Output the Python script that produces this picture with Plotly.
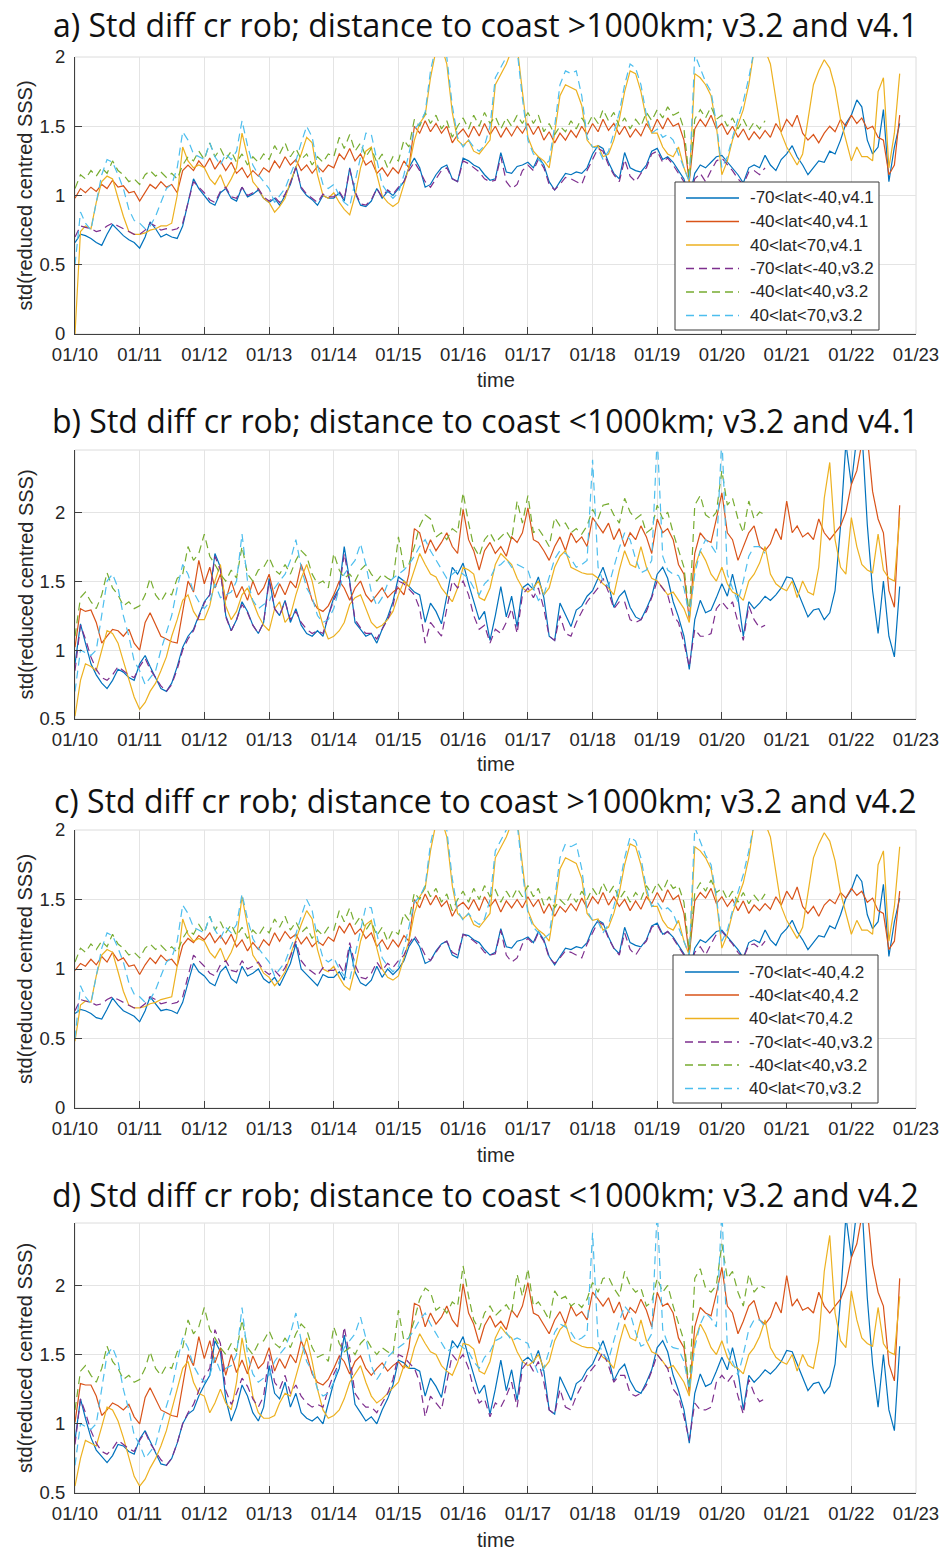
import pandas as pd
import plotly.graph_objects as go

# ---------------------------------------------------------------------------
# Monthly std of reduced-centred SSS differences, Jan 2010 - Oct 2022
# S = -70<lat<-40, T = -40<lat<40, N = 40<lat<70
# FAR = distance to coast >1000km, NEAR = distance to coast <1000km
# ---------------------------------------------------------------------------
START = "2010-01-01"

# ---- distance to coast > 1000 km -------------------------------------------
FAR_S_V41 = [
    0.66, 0.72, 0.71, 0.69, 0.66, 0.64, 0.72, 0.79, 0.75, 0.71, 0.68, 0.66,
    0.62, 0.70, 0.81, 0.76, 0.70, 0.72, 0.70, 0.69, 0.78, 0.95, 1.12, 1.05,
    1.00, 0.95, 0.93, 1.02, 1.05, 0.98, 0.96, 1.06, 0.99, 1.01, 1.04, 0.98,
    0.95, 0.98, 0.93, 1.00, 1.08, 1.21, 1.05, 1.00, 0.97, 0.93, 1.00, 0.98,
    0.98, 1.02, 0.96, 1.20, 1.02, 0.93, 0.92, 0.96, 1.05, 0.98, 1.03, 1.00,
    1.05, 1.10, 1.20, 1.27, 1.20, 1.06, 1.08, 1.15, 1.20, 1.22, 1.12, 1.10,
    1.27, 1.25, 1.22, 1.20, 1.15, 1.11, 1.12, 1.31, 1.17, 1.16, 1.21, 1.22,
    1.24, 1.20, 1.28, 1.22, 1.10, 1.04, 1.10, 1.16, 1.15, 1.17, 1.16, 1.20,
    1.30, 1.36, 1.34, 1.24, 1.16, 1.12, 1.31, 1.20, 1.18, 1.17, 1.22, 1.32,
    1.34, 1.26, 1.28, 1.24, 1.18, 1.12, 0.98, 1.16, 1.22, 1.20, 1.24, 1.28,
    1.29, 1.24, 1.20, 1.15, 1.09, 1.20, 1.22, 1.20, 1.29, 1.22, 1.18, 1.26,
    1.30, 1.36, 1.28, 1.22, 1.15, 1.20, 1.25, 1.24, 1.32, 1.30, 1.40, 1.52,
    1.58, 1.69, 1.64, 1.40, 1.30, 1.35, 1.62, 1.10, 1.35, 1.52,
]
FAR_T_V41 = [
    0.98, 1.05, 1.02, 1.06, 1.03, 1.08, 1.05, 1.11, 1.06, 1.07, 1.02, 1.03,
    0.96, 1.02, 1.08, 1.05, 1.10, 1.06, 1.08, 1.02, 1.18, 1.22, 1.18, 1.25,
    1.20, 1.27, 1.19, 1.25, 1.18, 1.24, 1.16, 1.20, 1.13, 1.18, 1.14, 1.20,
    1.17, 1.25, 1.20, 1.28, 1.22, 1.26, 1.18, 1.22, 1.16, 1.21, 1.17, 1.22,
    1.20, 1.30, 1.26, 1.34, 1.25, 1.30, 1.22, 1.25, 1.16, 1.20, 1.14, 1.20,
    1.16, 1.25, 1.20, 1.50, 1.45, 1.54, 1.46, 1.52, 1.45, 1.50, 1.38, 1.44,
    1.48, 1.42, 1.50, 1.43, 1.52, 1.44, 1.50, 1.42, 1.49, 1.43, 1.50, 1.45,
    1.52, 1.44, 1.50, 1.40, 1.46, 1.38, 1.45, 1.40, 1.47, 1.42, 1.50, 1.44,
    1.52, 1.46, 1.55, 1.47, 1.52, 1.44, 1.50, 1.42, 1.48, 1.43, 1.52, 1.46,
    1.55, 1.48, 1.56, 1.50, 1.52, 1.40, 1.10, 1.48, 1.55, 1.50, 1.58, 1.48,
    1.52, 1.44, 1.50, 1.42, 1.48, 1.40, 1.46, 1.41, 1.47, 1.42, 1.52, 1.46,
    1.55, 1.50, 1.58, 1.45, 1.40, 1.44, 1.38, 1.45, 1.50, 1.46, 1.55, 1.50,
    1.58, 1.52, 1.56, 1.48, 1.50, 1.42, 1.40, 1.15, 1.22, 1.58,
]
FAR_N_V41 = [
    0.00, 0.74, 0.78, 0.76, 0.95, 1.10, 1.14, 1.12, 0.98, 0.85, 0.74, 0.72,
    0.72, 0.73, 0.75, 0.76, 0.78, 0.78, 0.80, 1.00, 1.35, 1.25, 1.20, 1.22,
    1.20, 1.12, 1.08, 1.15, 1.05, 1.12, 1.20, 1.45, 1.28, 1.10, 1.05, 0.98,
    0.95, 0.88, 0.92, 0.98, 1.10, 1.20, 1.30, 1.42, 1.38, 1.15, 1.00, 0.98,
    1.02, 0.95, 0.90, 0.86, 1.00, 1.20, 1.32, 1.35, 1.15, 1.00, 0.95, 0.92,
    0.95, 1.08, 1.20, 1.40, 1.52, 1.58, 1.85, 2.05, 2.08, 1.95, 1.60, 1.40,
    1.36, 1.40, 1.32, 1.30, 1.35, 1.40, 1.80, 1.88, 1.95, 2.05, 2.08, 1.75,
    1.42, 1.32, 1.28, 1.25, 1.20, 1.45, 1.72, 1.80, 1.78, 1.76, 1.65, 1.40,
    1.35, 1.36, 1.28, 1.30, 1.40, 1.55, 1.75, 1.90, 1.88, 1.75, 1.55, 1.45,
    1.45, 1.35, 1.30, 1.28, 1.35, 1.20, 1.10, 1.88, 1.85, 1.80, 1.72, 1.50,
    1.15, 1.25, 1.40, 1.52, 1.62, 1.80, 2.05, 2.10, 2.05, 1.95, 1.70, 1.45,
    1.35, 1.28, 1.22, 1.30, 1.55, 1.80, 1.90, 1.98, 1.92, 1.78, 1.55, 1.40,
    1.25, 1.35, 1.28, 1.28, 1.25, 1.75, 1.85, 1.20, 1.45, 1.88,
]
FAR_S_V42 = [
    0.68, 0.71, 0.70, 0.68, 0.65, 0.64, 0.71, 0.79, 0.74, 0.70, 0.68, 0.66,
    0.62, 0.70, 0.80, 0.75, 0.70, 0.71, 0.70, 0.68, 0.76, 0.90, 1.04, 0.98,
    0.95, 0.90, 0.88, 0.98, 1.02, 0.93, 0.90, 1.02, 0.95, 0.97, 1.00, 0.93,
    0.90, 0.94, 0.88, 0.96, 1.04, 1.18, 1.00, 0.96, 0.92, 0.88, 0.96, 0.94,
    0.94, 0.98, 0.92, 1.16, 0.98, 0.90, 0.88, 0.92, 1.02, 0.94, 1.00, 0.96,
    1.00, 1.06, 1.16, 1.22, 1.16, 1.04, 1.06, 1.13, 1.18, 1.20, 1.10, 1.08,
    1.25, 1.24, 1.21, 1.19, 1.14, 1.10, 1.12, 1.29, 1.16, 1.15, 1.20, 1.21,
    1.23, 1.19, 1.27, 1.21, 1.09, 1.03, 1.09, 1.15, 1.14, 1.16, 1.15, 1.19,
    1.29, 1.35, 1.33, 1.23, 1.15, 1.11, 1.30, 1.19, 1.17, 1.16, 1.21, 1.31,
    1.33, 1.25, 1.27, 1.23, 1.17, 1.11, 0.97, 1.15, 1.21, 1.19, 1.23, 1.27,
    1.28, 1.23, 1.19, 1.14, 1.08, 1.19, 1.21, 1.19, 1.28, 1.21, 1.17, 1.25,
    1.29, 1.35, 1.27, 1.21, 1.14, 1.19, 1.24, 1.23, 1.31, 1.29, 1.39, 1.51,
    1.57, 1.68, 1.63, 1.39, 1.29, 1.34, 1.61, 1.09, 1.34, 1.51,
]
FAR_T_V42 = [
    0.99, 1.04, 1.02, 1.07, 1.03, 1.09, 1.05, 1.12, 1.06, 1.08, 1.02, 1.03,
    0.96, 1.03, 1.08, 1.04, 1.10, 1.06, 1.07, 1.02, 1.17, 1.22, 1.19, 1.24,
    1.21, 1.26, 1.19, 1.24, 1.18, 1.25, 1.16, 1.21, 1.13, 1.19, 1.14, 1.21,
    1.17, 1.26, 1.20, 1.27, 1.22, 1.25, 1.18, 1.23, 1.16, 1.20, 1.17, 1.23,
    1.20, 1.31, 1.26, 1.33, 1.25, 1.29, 1.22, 1.26, 1.16, 1.21, 1.14, 1.21,
    1.16, 1.24, 1.20, 1.50, 1.44, 1.54, 1.46, 1.53, 1.45, 1.49, 1.38, 1.45,
    1.48, 1.43, 1.50, 1.42, 1.52, 1.45, 1.50, 1.41, 1.49, 1.44, 1.50, 1.44,
    1.52, 1.45, 1.50, 1.40, 1.47, 1.38, 1.45, 1.41, 1.47, 1.42, 1.51, 1.44,
    1.52, 1.47, 1.55, 1.46, 1.52, 1.45, 1.50, 1.42, 1.49, 1.43, 1.52, 1.47,
    1.55, 1.48, 1.57, 1.50, 1.53, 1.40, 1.10, 1.49, 1.55, 1.51, 1.58, 1.47,
    1.52, 1.45, 1.50, 1.42, 1.49, 1.40, 1.46, 1.42, 1.47, 1.43, 1.52, 1.46,
    1.56, 1.50, 1.59, 1.45, 1.40, 1.45, 1.38, 1.46, 1.50, 1.47, 1.55, 1.51,
    1.58, 1.53, 1.56, 1.48, 1.51, 1.42, 1.40, 1.14, 1.20, 1.56,
]
FAR_N_V42 = [
    0.48, 0.74, 0.77, 0.76, 0.95, 1.10, 1.14, 1.12, 0.98, 0.84, 0.74, 0.72,
    0.72, 0.73, 0.75, 0.76, 0.78, 0.79, 0.80, 1.02, 1.36, 1.25, 1.20, 1.22,
    1.20, 1.12, 1.08, 1.15, 1.05, 1.12, 1.22, 1.52, 1.30, 1.10, 1.04, 0.97,
    0.94, 0.88, 0.92, 0.98, 1.10, 1.22, 1.32, 1.42, 1.36, 1.14, 1.00, 0.98,
    1.02, 0.94, 0.88, 0.85, 1.00, 1.20, 1.32, 1.35, 1.15, 1.00, 0.94, 0.92,
    0.95, 1.08, 1.20, 1.40, 1.52, 1.58, 1.85, 2.05, 2.08, 1.95, 1.60, 1.40,
    1.36, 1.40, 1.32, 1.30, 1.35, 1.40, 1.80, 1.88, 1.95, 2.05, 2.08, 1.75,
    1.42, 1.32, 1.28, 1.25, 1.20, 1.45, 1.72, 1.80, 1.78, 1.76, 1.65, 1.40,
    1.35, 1.36, 1.28, 1.30, 1.40, 1.55, 1.75, 1.90, 1.88, 1.75, 1.55, 1.45,
    1.45, 1.35, 1.30, 1.28, 1.35, 1.20, 1.10, 1.88, 1.85, 1.80, 1.72, 1.50,
    1.15, 1.25, 1.40, 1.52, 1.62, 1.80, 2.05, 2.10, 2.05, 1.95, 1.70, 1.45,
    1.35, 1.28, 1.22, 1.30, 1.55, 1.80, 1.90, 1.98, 1.92, 1.78, 1.55, 1.40,
    1.25, 1.35, 1.28, 1.28, 1.25, 1.75, 1.85, 1.20, 1.45, 1.88,
]
FAR_S_V32 = [
    0.70, 0.78, 0.77, 0.76, 0.74, 0.75, 0.78, 0.80, 0.78, 0.76, 0.74, 0.72,
    0.72, 0.75, 0.80, 0.78, 0.75, 0.76, 0.75, 0.76, 0.80, 0.95, 1.10, 1.06,
    1.02, 0.97, 0.95, 1.03, 1.06, 0.99, 0.98, 1.06, 1.00, 1.02, 1.05, 0.99,
    0.96, 0.99, 0.95, 1.01, 1.09, 1.20, 1.06, 1.01, 0.98, 0.95, 1.01, 0.99,
    0.99, 1.03, 0.97, 1.19, 1.03, 0.94, 0.93, 0.97, 1.05, 0.99, 1.04, 1.01,
    1.06, 1.10, 1.18, 1.24, 1.18, 1.10, 1.06, 1.12, 1.18, 1.20, 1.12, 1.10,
    1.25, 1.23, 1.20, 1.17, 1.12, 1.10, 1.11, 1.28, 1.10, 1.05, 1.08, 1.18,
    1.22, 1.18, 1.26, 1.20, 1.08, 1.04, 1.08, 1.13, 1.12, 1.10, 1.08, 1.18,
    1.26, 1.34, 1.32, 1.22, 1.15, 1.10, 1.26, 1.14, 1.10, 1.16, 1.20, 1.30,
    1.32, 1.24, 1.27, 1.22, 1.16, 1.10, 0.98, 1.12, 1.16, 1.10, 1.18, 1.25,
    1.27, 1.22, 1.18, 1.12, 1.08, 1.17, 1.18, 1.15, 1.20,
]
FAR_T_V32 = [
    1.05, 1.15, 1.12, 1.18, 1.14, 1.20, 1.16, 1.25, 1.18, 1.15, 1.10, 1.12,
    1.08, 1.15, 1.18, 1.14, 1.17, 1.13, 1.16, 1.12, 1.22, 1.28, 1.25, 1.32,
    1.26, 1.38, 1.28, 1.34, 1.26, 1.32, 1.24, 1.30, 1.22, 1.28, 1.24, 1.30,
    1.26, 1.36, 1.30, 1.38, 1.28, 1.34, 1.26, 1.30, 1.22, 1.28, 1.24, 1.30,
    1.28, 1.42, 1.34, 1.44, 1.32, 1.38, 1.28, 1.34, 1.24, 1.30, 1.20, 1.28,
    1.25, 1.40, 1.35, 1.55, 1.50, 1.60, 1.52, 1.58, 1.48, 1.54, 1.42, 1.50,
    1.56, 1.48, 1.58, 1.50, 1.60, 1.52, 1.57, 1.48, 1.56, 1.50, 1.58, 1.52,
    1.60, 1.52, 1.58, 1.46, 1.52, 1.44, 1.50, 1.46, 1.54, 1.48, 1.56, 1.50,
    1.58, 1.52, 1.62, 1.54, 1.60, 1.50, 1.56, 1.48, 1.55, 1.50, 1.60, 1.54,
    1.62, 1.56, 1.64, 1.58, 1.60, 1.48, 1.12, 1.55, 1.62, 1.56, 1.64, 1.55,
    1.58, 1.50, 1.56, 1.48, 1.55, 1.47, 1.53, 1.48, 1.54,
]
FAR_N_V32 = [
    0.50, 0.88, 0.80, 0.75, 0.95, 1.15, 1.26, 1.24, 1.15, 1.05, 0.90, 0.82,
    0.80, 0.76, 0.78, 0.85, 0.95, 1.05, 1.08, 1.20, 1.46, 1.40, 1.30, 1.28,
    1.26, 1.38, 1.28, 1.22, 1.30, 1.26, 1.32, 1.54, 1.36, 1.22, 1.15, 1.10,
    1.05, 0.95, 1.00, 1.05, 1.15, 1.25, 1.38, 1.50, 1.42, 1.22, 1.08, 1.05,
    1.08, 1.00, 0.95, 0.92, 1.10, 1.28, 1.45, 1.44, 1.25, 1.08, 1.02, 0.98,
    1.02, 1.15, 1.30, 1.48, 1.52, 1.60, 1.90, 2.08, 2.10, 2.00, 1.65, 1.42,
    1.35, 1.40, 1.35, 1.32, 1.36, 1.50, 1.85, 1.92, 2.00, 2.08, 2.05, 1.70,
    1.40, 1.30, 1.26, 1.22, 1.25, 1.50, 1.80, 1.90, 1.88, 1.90, 1.72, 1.42,
    1.35, 1.34, 1.26, 1.32, 1.45, 1.60, 1.80, 1.95, 1.92, 1.80, 1.58, 1.45,
    1.48, 1.42, 1.44, 1.40, 1.30, 1.20, 1.10, 2.02, 1.92, 1.82, 1.75, 1.52,
    1.20, 1.28, 1.42, 1.55, 1.68, 1.85, 2.05, 2.12, 2.05,
]

# ---- distance to coast < 1000 km -------------------------------------------
NEAR_S_V41 = [
    0.90, 1.19, 1.05, 0.90, 0.82, 0.76, 0.72, 0.78, 0.86, 0.84, 0.80, 0.78,
    0.90, 0.96, 0.88, 0.80, 0.72, 0.70, 0.76, 0.88, 1.02, 1.10, 1.15, 1.25,
    1.35, 1.40, 1.70, 1.60, 1.25, 1.14, 1.22, 1.35, 1.28, 1.18, 1.12, 1.20,
    1.52, 1.30, 1.25, 1.36, 1.20, 1.30, 1.18, 1.12, 1.10, 1.14, 1.10, 1.25,
    1.38, 1.45, 1.75, 1.50, 1.20, 1.15, 1.10, 1.12, 1.05, 1.15, 1.24, 1.35,
    1.53, 1.50, 1.46, 1.42, 1.40, 1.20, 1.34, 1.28, 1.19, 1.40, 1.60, 1.55,
    1.63, 1.48, 1.36, 1.22, 1.28, 1.07, 1.25, 1.46, 1.24, 1.39, 1.17, 1.45,
    1.48, 1.44, 1.53, 1.38, 1.10, 1.07, 1.34, 1.25, 1.17, 1.29, 1.32, 1.39,
    1.43, 1.52, 1.60, 1.48, 1.31, 1.39, 1.43, 1.31, 1.24, 1.22, 1.30, 1.39,
    1.55, 1.60, 1.52, 1.35, 1.24, 1.10, 0.86, 1.22, 1.36, 1.27, 1.29, 1.38,
    1.48, 1.39, 1.55, 1.38, 1.10, 1.35, 1.30, 1.34, 1.39, 1.36, 1.40, 1.45,
    1.53, 1.52, 1.43, 1.34, 1.24, 1.29, 1.30, 1.22, 1.27, 1.43, 1.90, 2.50,
    2.20, 2.55, 2.60, 1.91, 1.43, 1.12, 1.50, 1.10, 0.95, 1.46,
]
NEAR_T_V41 = [
    1.02, 1.30, 1.28, 1.29, 1.20, 1.05, 1.10, 1.15, 1.14, 1.10, 1.15, 1.05,
    1.00, 1.20, 1.27, 1.18, 1.10, 1.08, 1.06, 1.05, 1.28, 1.50, 1.42, 1.65,
    1.48, 1.60, 1.45, 1.55, 1.36, 1.50, 1.38, 1.46, 1.36, 1.50, 1.40, 1.45,
    1.55, 1.38, 1.48, 1.40, 1.50, 1.45, 1.62, 1.50, 1.36, 1.30, 1.28, 1.32,
    1.40, 1.50, 1.45, 1.36, 1.45, 1.50, 1.40, 1.35, 1.40, 1.45, 1.38, 1.42,
    1.45, 1.40, 1.55, 1.88, 1.85, 1.70, 1.80, 1.72, 1.78, 1.85, 1.75, 1.70,
    2.02, 1.80, 1.72, 1.58, 1.72, 1.78, 1.70, 1.75, 1.68, 1.82, 1.78, 1.85,
    2.03, 1.80, 1.78, 1.72, 1.65, 1.75, 1.82, 1.72, 1.85, 1.78, 1.82, 1.75,
    1.96, 1.90, 1.85, 1.92, 1.80, 1.88, 1.75, 1.85, 1.80, 1.90, 1.82, 1.70,
    1.95, 1.85, 1.88, 1.80, 1.62, 1.55, 1.22, 1.70, 1.85, 1.80, 1.78, 1.95,
    2.14, 1.85, 1.80, 1.65, 1.75, 1.85, 1.90, 1.75, 1.72, 1.77, 1.88, 1.80,
    2.08, 1.85, 1.90, 1.82, 1.85, 1.80, 1.95, 1.85, 1.80, 1.85, 1.90, 2.00,
    2.20, 2.30, 2.50, 2.55, 2.15, 1.95, 1.85, 1.43, 1.31, 2.05,
]
NEAR_N_V41 = [
    0.52, 0.78, 0.90, 0.88, 0.85, 1.00, 1.14, 1.12, 1.05, 0.92, 0.78, 0.66,
    0.57, 0.62, 0.70, 0.76, 0.85, 0.95, 1.10, 1.22, 1.36, 1.40, 1.28, 1.22,
    1.22, 1.32, 1.50, 1.62, 1.32, 1.22, 1.28, 1.40, 1.45, 1.35, 1.25, 1.18,
    1.14, 1.30, 1.35, 1.20, 1.25, 1.40, 1.52, 1.62, 1.50, 1.32, 1.18, 1.08,
    1.10, 1.14, 1.20, 1.33, 1.38, 1.40, 1.30, 1.20, 1.16, 1.18, 1.22, 1.28,
    1.40, 1.50, 1.46, 1.58, 1.70, 1.62, 1.55, 1.53, 1.45, 1.40, 1.35, 1.45,
    1.60, 1.58, 1.55, 1.38, 1.36, 1.45, 1.62, 1.70, 1.66, 1.62, 1.52, 1.45,
    1.42, 1.45, 1.50, 1.40, 1.45, 1.60, 1.68, 1.72, 1.60, 1.58, 1.56, 1.55,
    1.55, 1.52, 1.48, 1.45, 1.40, 1.58, 1.72, 1.62, 1.60, 1.75, 1.60, 1.52,
    1.50, 1.45, 1.40, 1.42, 1.36, 1.30, 1.20, 1.60, 1.72, 1.65, 1.55, 1.50,
    1.60, 1.48, 1.42, 1.40, 1.36, 1.50, 1.55, 1.63, 1.75, 1.55, 1.48, 1.45,
    1.43, 1.50, 1.38, 1.50, 1.42, 1.40, 1.60, 2.10, 2.36, 1.80, 1.60, 1.55,
    1.96, 1.75, 1.62, 1.58, 1.56, 1.84, 1.58, 1.52, 1.50, 1.96,
]
NEAR_S_V42 = [
    0.88, 1.18, 1.04, 0.90, 0.81, 0.76, 0.72, 0.77, 0.85, 0.84, 0.80, 0.78,
    0.89, 0.95, 0.87, 0.79, 0.71, 0.70, 0.75, 0.86, 1.00, 1.07, 1.10, 1.20,
    1.28, 1.35, 1.60, 1.52, 1.18, 1.02, 1.12, 1.28, 1.20, 1.08, 1.02, 1.12,
    1.42, 1.22, 1.18, 1.30, 1.12, 1.22, 1.08, 1.04, 1.02, 1.05, 1.00, 1.15,
    1.30, 1.40, 1.64, 1.42, 1.14, 1.08, 1.02, 1.05, 1.00, 1.10, 1.18, 1.28,
    1.46, 1.44, 1.40, 1.40, 1.38, 1.20, 1.33, 1.27, 1.19, 1.40, 1.60, 1.55,
    1.63, 1.48, 1.36, 1.22, 1.28, 1.07, 1.25, 1.46, 1.24, 1.39, 1.17, 1.45,
    1.48, 1.44, 1.53, 1.38, 1.10, 1.07, 1.34, 1.25, 1.17, 1.29, 1.32, 1.39,
    1.43, 1.52, 1.60, 1.48, 1.31, 1.39, 1.43, 1.31, 1.24, 1.22, 1.30, 1.39,
    1.55, 1.60, 1.52, 1.35, 1.24, 1.10, 0.86, 1.22, 1.36, 1.27, 1.29, 1.38,
    1.48, 1.39, 1.55, 1.38, 1.10, 1.35, 1.30, 1.34, 1.39, 1.36, 1.40, 1.45,
    1.53, 1.52, 1.43, 1.34, 1.24, 1.29, 1.30, 1.22, 1.27, 1.43, 1.90, 2.50,
    2.20, 2.55, 2.60, 1.91, 1.43, 1.12, 1.50, 1.10, 0.95, 1.56,
]
NEAR_T_V42 = [
    1.01, 1.29, 1.28, 1.28, 1.20, 1.06, 1.10, 1.15, 1.13, 1.10, 1.14, 1.05,
    1.00, 1.19, 1.26, 1.18, 1.10, 1.08, 1.06, 1.05, 1.27, 1.50, 1.42, 1.63,
    1.47, 1.60, 1.44, 1.55, 1.35, 1.50, 1.37, 1.46, 1.36, 1.49, 1.40, 1.44,
    1.55, 1.38, 1.47, 1.40, 1.50, 1.44, 1.60, 1.50, 1.36, 1.30, 1.28, 1.32,
    1.40, 1.49, 1.45, 1.36, 1.45, 1.49, 1.40, 1.35, 1.40, 1.44, 1.38, 1.42,
    1.45, 1.40, 1.55, 1.87, 1.85, 1.70, 1.80, 1.72, 1.77, 1.85, 1.75, 1.70,
    2.01, 1.80, 1.72, 1.58, 1.71, 1.78, 1.70, 1.74, 1.68, 1.82, 1.77, 1.85,
    2.02, 1.80, 1.78, 1.71, 1.65, 1.75, 1.81, 1.72, 1.85, 1.78, 1.81, 1.75,
    1.95, 1.90, 1.85, 1.91, 1.80, 1.88, 1.75, 1.84, 1.80, 1.90, 1.82, 1.70,
    1.95, 1.85, 1.87, 1.80, 1.62, 1.55, 1.22, 1.70, 1.84, 1.80, 1.78, 1.94,
    2.13, 1.85, 1.80, 1.65, 1.74, 1.85, 1.89, 1.75, 1.72, 1.77, 1.88, 1.80,
    2.07, 1.85, 1.90, 1.82, 1.84, 1.80, 1.95, 1.85, 1.80, 1.85, 1.90, 2.00,
    2.20, 2.30, 2.50, 2.55, 2.15, 1.95, 1.85, 1.43, 1.31, 2.05,
]
NEAR_N_V42 = [
    0.55, 0.75, 0.88, 0.86, 0.84, 0.98, 1.12, 1.10, 1.02, 0.90, 0.75, 0.62,
    0.55, 0.60, 0.68, 0.75, 0.84, 0.95, 1.10, 1.25, 1.40, 1.45, 1.30, 1.22,
    1.20, 1.08, 1.15, 1.25, 1.15, 1.10, 1.30, 1.62, 1.40, 1.20, 1.08, 1.04,
    1.04, 1.06, 1.15, 1.22, 1.20, 1.35, 1.48, 1.62, 1.45, 1.25, 1.10, 1.04,
    1.06, 1.10, 1.18, 1.30, 1.36, 1.42, 1.30, 1.20, 1.15, 1.18, 1.22, 1.26,
    1.30, 1.42, 1.40, 1.55, 1.65, 1.58, 1.52, 1.50, 1.42, 1.38, 1.35, 1.44,
    1.58, 1.57, 1.54, 1.38, 1.36, 1.45, 1.62, 1.70, 1.65, 1.62, 1.52, 1.45,
    1.42, 1.45, 1.50, 1.40, 1.45, 1.60, 1.68, 1.72, 1.60, 1.58, 1.56, 1.55,
    1.55, 1.52, 1.48, 1.45, 1.40, 1.58, 1.72, 1.62, 1.60, 1.75, 1.60, 1.52,
    1.50, 1.45, 1.40, 1.42, 1.36, 1.30, 1.20, 1.60, 1.72, 1.65, 1.55, 1.50,
    1.60, 1.48, 1.42, 1.40, 1.36, 1.50, 1.55, 1.63, 1.75, 1.55, 1.48, 1.45,
    1.43, 1.50, 1.38, 1.50, 1.42, 1.40, 1.60, 2.10, 2.36, 1.80, 1.60, 1.55,
    1.96, 1.75, 1.62, 1.58, 1.56, 1.84, 1.58, 1.52, 1.50, 1.92,
]
NEAR_S_V32 = [
    0.85, 1.18, 1.08, 0.95, 0.86, 0.80, 0.78, 0.82, 0.88, 0.85, 0.82, 0.80,
    0.88, 0.94, 0.86, 0.80, 0.74, 0.70, 0.75, 0.86, 1.00, 1.08, 1.14, 1.24,
    1.34, 1.40, 1.68, 1.58, 1.24, 1.14, 1.22, 1.33, 1.27, 1.18, 1.12, 1.20,
    1.50, 1.30, 1.25, 1.35, 1.22, 1.28, 1.20, 1.15, 1.12, 1.14, 1.12, 1.25,
    1.36, 1.44, 1.70, 1.48, 1.22, 1.16, 1.12, 1.12, 1.08, 1.15, 1.22, 1.32,
    1.50, 1.48, 1.44, 1.40, 1.30, 1.05, 1.20, 1.15, 1.10, 1.30, 1.50, 1.45,
    1.50, 1.40, 1.25, 1.15, 1.18, 1.05, 1.15, 1.12, 1.20, 1.30, 1.12, 1.40,
    1.45, 1.38, 1.45, 1.30, 1.10, 1.07, 1.25, 1.12, 1.10, 1.20, 1.28, 1.35,
    1.40, 1.45, 1.52, 1.42, 1.30, 1.35, 1.35, 1.22, 1.20, 1.22, 1.28, 1.38,
    1.50, 1.45, 1.40, 1.25, 1.20, 1.05, 0.88, 1.15, 1.10, 1.10, 1.12, 1.30,
    1.35, 1.30, 1.35, 1.20, 1.07, 1.32, 1.22, 1.16, 1.18,
]
NEAR_T_V32 = [
    1.10, 1.38, 1.42, 1.35, 1.30, 1.40, 1.56, 1.45, 1.40, 1.32, 1.35, 1.30,
    1.32, 1.40, 1.52, 1.40, 1.35, 1.42, 1.40, 1.52, 1.55, 1.75, 1.65, 1.70,
    1.84, 1.68, 1.62, 1.55, 1.50, 1.58, 1.52, 1.75, 1.55, 1.50, 1.58, 1.60,
    1.67, 1.58, 1.55, 1.62, 1.55, 1.65, 1.72, 1.68, 1.55, 1.48, 1.50, 1.45,
    1.70, 1.58, 1.52, 1.55, 1.50, 1.58, 1.62, 1.55, 1.50, 1.55, 1.52, 1.50,
    1.82, 1.60, 1.62, 1.75, 1.90, 1.98, 1.95, 1.82, 1.85, 1.80, 1.88, 1.85,
    2.14, 1.92, 1.75, 1.68, 1.80, 1.85, 1.78, 1.82, 1.86, 1.80, 2.08, 1.92,
    2.12, 1.85, 1.88, 1.82, 1.75, 1.96, 1.90, 1.92, 1.85, 1.88, 1.84, 1.90,
    2.02, 1.95, 2.05, 2.06, 1.98, 1.92, 2.10, 2.00, 1.95, 1.98, 1.85, 1.88,
    2.05, 1.95, 2.00, 1.85, 1.72, 1.60, 1.25, 2.05, 2.12, 1.98, 1.95, 2.00,
    2.30, 2.05, 2.10, 1.95, 1.85, 2.08, 1.95, 2.00, 1.98,
]
NEAR_N_V32 = [
    0.70, 1.00, 0.98, 0.96, 1.00, 1.25, 1.50, 1.55, 1.45, 1.25, 1.10, 0.92,
    0.85, 0.75, 0.80, 0.85, 1.00, 1.12, 1.25, 1.45, 1.62, 1.55, 1.42, 1.35,
    1.30, 1.35, 1.48, 1.38, 1.40, 1.42, 1.50, 1.84, 1.50, 1.36, 1.30, 1.33,
    1.35, 1.45, 1.50, 1.55, 1.65, 1.80, 1.60, 1.45, 1.38, 1.25, 1.20, 1.22,
    1.30, 1.45, 1.55, 1.60, 1.65, 1.77, 1.62, 1.42, 1.32, 1.38, 1.48, 1.52,
    1.55, 1.58, 1.62, 1.68, 1.75, 1.80, 1.72, 1.65, 1.58, 1.52, 1.55, 1.58,
    1.55, 1.52, 1.45, 1.40, 1.48, 1.52, 1.60, 1.62, 1.66, 1.60, 1.62, 1.60,
    1.58, 1.45, 1.36, 1.40, 1.52, 1.66, 1.72, 1.70, 1.66, 1.60, 1.62, 1.65,
    2.38, 1.60, 1.50, 1.46, 1.60, 1.74, 1.85, 1.80, 1.66, 1.56, 1.58, 1.65,
    2.55, 1.68, 1.58, 1.55, 1.54, 1.45, 1.25, 1.55, 1.72, 1.80, 1.76, 1.70,
    2.55, 1.55, 1.45, 1.35, 1.50, 1.68, 1.75, 1.75, 1.70,
]

# ---- axis ticks --------------------------------------------------------------
TICK_DATES = ["%d-01-01" % y for y in range(2010, 2024)]
TICK_TEXT = ["01/%02d" % (y % 100) for y in range(2010, 2024)]
Y_TICKS_FULL = [0, 0.5, 1, 1.5, 2]
Y_TICKS_COAST = [0.5, 1, 1.5, 2]

LABELS_V41 = ["-70&lt;lat&lt;-40,v4.1", "-40&lt;lat&lt;40,v4.1", "40&lt;lat&lt;70,v4.1"]
LABELS_V42 = ["-70&lt;lat&lt;-40,4.2", "-40&lt;lat&lt;40,4.2", "40&lt;lat&lt;70,4.2"]
LABELS_V32 = ["-70&lt;lat&lt;-40,v3.2", "-40&lt;lat&lt;40,v3.2", "40&lt;lat&lt;70,v3.2"]

# ---------------------------------------------------------------------------
W, H = 941, 1550
BLUE, ORANGE, YELLOW = "#0072BD", "#D95319", "#EDB120"
PURPLE, GREEN, CYAN = "#7E2F8E", "#77AC30", "#4DBEEE"
COLORS_SOLID = [BLUE, ORANGE, YELLOW]
COLORS_DASH = [PURPLE, GREEN, CYAN]
DASH = "8px,5px"
AXIS_GREY = "#404040"
TEXT_GREY = "#262626"
SANS = "Liberation Sans, Arial, sans-serif"
TICK_FONT = dict(family=SANS, size=18.5, color=TEXT_GREY)


def fx(px):
    return px / W


def fy(py):
    return 1 - py / H


PANELS = [
    dict(title="a) Std diff cr rob; distance to coast &gt;1000km; v3.2 and v4.1",
         title_y=25, top=57, bottom=334, yrange=[0, 2], yticks=Y_TICKS_FULL, time_y=380,
         new=[FAR_S_V41, FAR_T_V41, FAR_N_V41], old=[FAR_S_V32, FAR_T_V32, FAR_N_V32],
         legend=dict(box=(675, 182, 879, 330), line=(686, 739), text_x=748,
                     rows=[198, 221.5, 245, 268.5, 292, 315.5], labels=LABELS_V41 + LABELS_V32)),
    dict(title="b) Std diff cr rob; distance to coast &lt;1000km; v3.2 and v4.1",
         title_y=420, top=450, bottom=719, yrange=[0.5, 2.45], yticks=Y_TICKS_COAST, time_y=764,
         new=[NEAR_S_V41, NEAR_T_V41, NEAR_N_V41], old=[NEAR_S_V32, NEAR_T_V32, NEAR_N_V32],
         legend=None),
    dict(title="c) Std diff cr rob; distance to coast &gt;1000km; v3.2 and v4.2",
         title_y=800, top=830, bottom=1108, yrange=[0, 2], yticks=Y_TICKS_FULL, time_y=1155,
         new=[FAR_S_V42, FAR_T_V42, FAR_N_V42], old=[FAR_S_V32, FAR_T_V32, FAR_N_V32],
         legend=dict(box=(673, 955, 878, 1103), line=(685, 739), text_x=747,
                     rows=[972, 995, 1018.5, 1042, 1065, 1088.5], labels=LABELS_V42 + LABELS_V32)),
    dict(title="d) Std diff cr rob; distance to coast &lt;1000km; v3.2 and v4.2",
         title_y=1194, top=1223, bottom=1493, yrange=[0.5, 2.45], yticks=Y_TICKS_COAST, time_y=1540,
         new=[NEAR_S_V42, NEAR_T_V42, NEAR_N_V42], old=[NEAR_S_V32, NEAR_T_V32, NEAR_N_V32],
         legend=None),
]

PLOT_LEFT, PLOT_RIGHT = 75, 916

fig = go.Figure()
legend_boxes, legend_lines, frame_shapes, annotations = [], [], [], []
layout = {}

for i, p in enumerate(PANELS):
    n = "" if i == 0 else str(i + 1)
    xref, yref = "x" + n, "y" + n

    for vals, color in zip(p["new"], COLORS_SOLID):
        fig.add_trace(go.Scatter(
            x=pd.date_range(START, periods=len(vals), freq="MS"), y=vals, mode="lines",
            line=dict(color=color, width=1.2), xaxis=xref, yaxis=yref,
            showlegend=False, hoverinfo="skip"))
    for vals, color in zip(p["old"], COLORS_DASH):
        fig.add_trace(go.Scatter(
            x=pd.date_range(START, periods=len(vals), freq="MS"), y=vals, mode="lines",
            line=dict(color=color, width=1.2, dash=DASH), xaxis=xref, yaxis=yref,
            showlegend=False, hoverinfo="skip"))

    layout["xaxis" + n] = dict(
        domain=[fx(PLOT_LEFT), fx(PLOT_RIGHT)], anchor=yref, automargin=False,
        range=[TICK_DATES[0], TICK_DATES[-1]], tickvals=TICK_DATES, ticktext=TICK_TEXT,
        ticks="inside", ticklen=7, tickwidth=1, tickcolor=AXIS_GREY,
        showline=True, linecolor=AXIS_GREY, linewidth=1,
        showgrid=True, gridcolor="#e4e4e4", gridwidth=1, zeroline=False,
        tickfont=TICK_FONT, ticklabelstandoff=4, fixedrange=True)
    layout["yaxis" + n] = dict(
        domain=[fy(p["bottom"]), fy(p["top"])], anchor=xref, automargin=False,
        range=p["yrange"], tickvals=p["yticks"], ticktext=[("%g" % v) for v in p["yticks"]],
        ticks="inside", ticklen=7, tickwidth=1, tickcolor=AXIS_GREY,
        showline=True, linecolor=AXIS_GREY, linewidth=1,
        showgrid=True, gridcolor="#e4e4e4", gridwidth=1, zeroline=False,
        tickfont=TICK_FONT, ticklabelstandoff=5, fixedrange=True)

    # light box around the plotting area
    frame_shapes.append(dict(type="rect", xref="paper", yref="paper",
                             x0=fx(PLOT_LEFT), x1=fx(PLOT_RIGHT), y0=fy(p["bottom"]), y1=fy(p["top"]),
                             line=dict(color="#dcdcdc", width=1), layer="below"))

    annotations.append(dict(text=p["title"], x=fx(485), y=fy(p["title_y"]), xref="paper", yref="paper",
                            xanchor="center", yanchor="middle", showarrow=False,
                            font=dict(family="Open Sans, Noto Sans, sans-serif", size=32, color="#111111")))
    annotations.append(dict(text="std(reduced centred SSS)", textangle=-90,
                            x=fx(25), y=fy((p["top"] + p["bottom"]) / 2), xref="paper", yref="paper",
                            xanchor="center", yanchor="middle", showarrow=False,
                            font=dict(family=SANS, size=20, color=TEXT_GREY)))
    annotations.append(dict(text="time", x=fx((PLOT_LEFT + PLOT_RIGHT) / 2), y=fy(p["time_y"]),
                            xref="paper", yref="paper", xanchor="center", yanchor="middle",
                            showarrow=False, font=dict(family=SANS, size=20, color=TEXT_GREY)))

    leg = p["legend"]
    if leg:
        x0, y0, x1, y1 = leg["box"]
        legend_boxes.append(dict(type="rect", xref="paper", yref="paper",
                                 x0=fx(x0), x1=fx(x1), y0=fy(y1), y1=fy(y0),
                                 fillcolor="white", line=dict(color="#3a3a3a", width=1),
                                 layer="above"))
        colors = COLORS_SOLID + COLORS_DASH
        dashes = ["solid"] * 3 + [DASH] * 3
        lx0, lx1 = leg["line"]
        for row_y, color, dash, label in zip(leg["rows"], colors, dashes, leg["labels"]):
            legend_lines.append(dict(type="line", xref="paper", yref="paper",
                                     x0=fx(lx0), x1=fx(lx1), y0=fy(row_y), y1=fy(row_y),
                                     line=dict(color=color, width=1.5, dash=dash), layer="above"))
            annotations.append(dict(text=label, x=fx(leg["text_x"]), y=fy(row_y),
                                    xref="paper", yref="paper", xanchor="left", yanchor="middle",
                                    showarrow=False, font=dict(family=SANS, size=17, color=TEXT_GREY)))

fig.update_layout(
    width=W, height=H, margin=dict(l=0, r=0, t=0, b=0, autoexpand=False),
    paper_bgcolor="white", plot_bgcolor="white",
    shapes=frame_shapes + legend_boxes + legend_lines,
    annotations=annotations, showlegend=False,
    **layout)

fig.write_html("out.html")
